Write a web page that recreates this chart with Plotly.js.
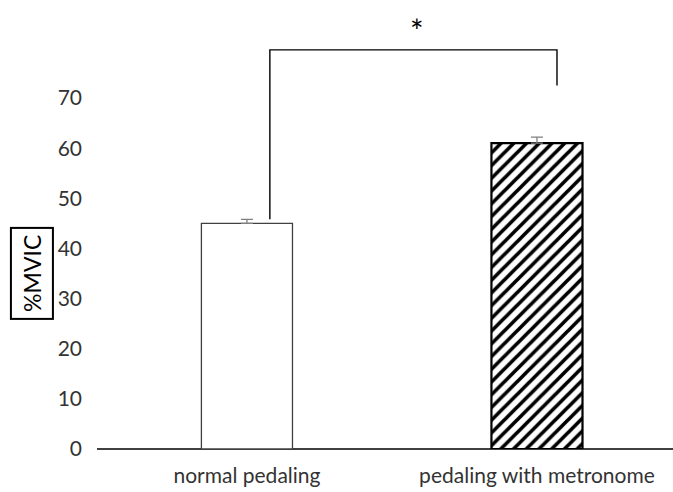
<!DOCTYPE html>
<html><head><meta charset="utf-8">
<script src="https://cdn.plot.ly/plotly-3.0.1.min.js"></script>
<style>html,body{margin:0;padding:0;background:#fff;}</style>
</head><body>
<div id="chart" style="width:673px;height:492px;"></div>
<script>
const categories = ["normal pedaling", "pedaling with metronome"];
const values = [45, 61];
const errors = [0.8, 1.2];
const yTicks = [0, 10, 20, 30, 40, 50, 60, 70];
const bracketX = [0.079, 0.079, 1.069, 1.069];
const bracketY = [45.8, 79.6, 79.6, 72.5];
const sigLabel = "*";
const yTitle = "%MVIC";

const xIdx = categories.map((c, i) => i);
const font = "Lato, 'Open Sans', sans-serif";

const traces = [
  {
    type: "bar", x: [xIdx[0]], y: [values[0]], width: 0.314,
    marker: {color: "#ffffff", line: {color: "#404040", width: 1.3}},
    error_y: {type: "data", symmetric: false, array: [errors[0]], arrayminus: [0], visible: true, color: "#808080", thickness: 1.3, width: 6},
    hoverinfo: "none"
  },
  {
    type: "bar", x: [xIdx[1]], y: [values[1]], width: 0.314,
    marker: {color: "#ffffff", line: {color: "#000000", width: 2.2},
      pattern: {shape: "/", fgcolor: "#000000", bgcolor: "#ffffff", size: 9, solidity: 0.4}},
    error_y: {type: "data", symmetric: false, array: [errors[1]], arrayminus: [0], visible: true, color: "#808080", thickness: 1.3, width: 6},
    hoverinfo: "none"
  },
  {
    type: "scatter", mode: "lines", x: bracketX, y: bracketY,
    line: {color: "#000000", width: 1.4}, hoverinfo: "none", cliponaxis: false
  }
];

const layout = {
  width: 673, height: 492,
  margin: {l: 97, r: 0, t: 0, b: 43},
  paper_bgcolor: "#ffffff", plot_bgcolor: "#ffffff",
  showlegend: false,
  barmode: "overlay",
  xaxis: {
    range: [-0.517, 1.469], tickvals: xIdx, ticktext: categories,
    showgrid: false, zeroline: false, showline: false, ticks: "",
    ticklabelstandoff: 12,
    tickfont: {family: font, size: 21, color: "#333333"}
  },
  yaxis: {
    range: [0, 89.55], tickvals: yTicks, showgrid: false, zeroline: true,
    zerolinecolor: "#404040", zerolinewidth: 1.3,
    showline: false, ticks: "", ticklabelstandoff: 14,
    tickfont: {family: font, size: 21, color: "#333333"}
  },
  annotations: [
    {xref: "x", yref: "y", x: 0.586, y: 83.5, text: sigLabel, showarrow: false,
     font: {family: font, size: 32, color: "#000000"}},
    {xref: "paper", yref: "paper", x: -0.113, y: 0.392, xanchor: "center", yanchor: "middle",
     text: yTitle, textangle: -90,
     showarrow: false, bordercolor: "#000000", borderwidth: 2, borderpad: 6,
     font: {family: font, size: 23, color: "#000000"}}
  ]
};
Plotly.newPlot("chart", traces, layout, {staticPlot: true, displayModeBar: false});
</script>
</body></html>
